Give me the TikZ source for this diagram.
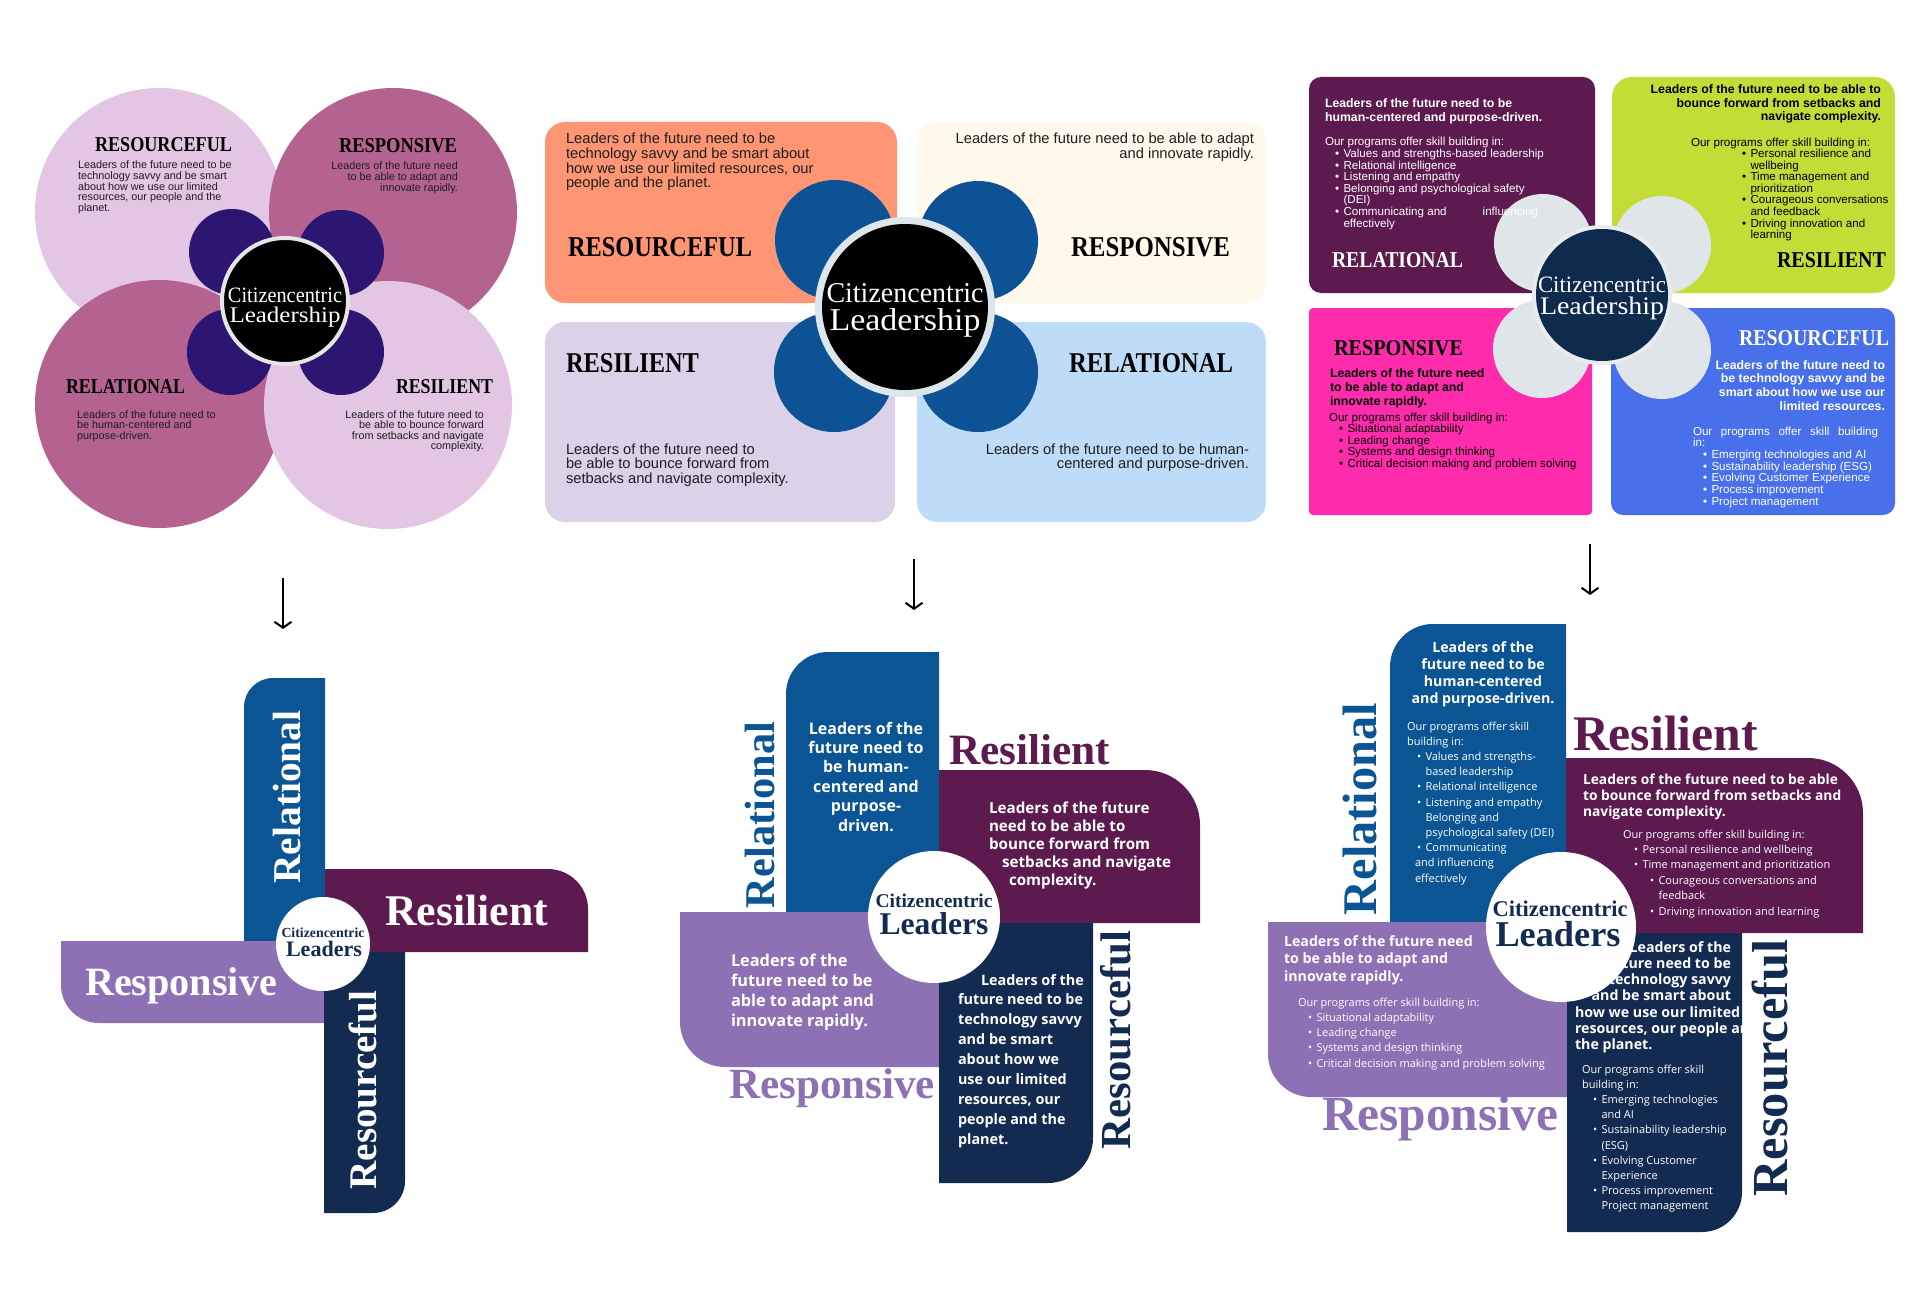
\documentclass[tikz,border=0pt]{standalone}
\usepackage{fontspec}
\usepackage{graphicx}
\usetikzlibrary{arrows.meta}
\setmainfont{Liberation Serif}
\newfontfamily\arialf{Liberation Sans}
\newfontfamily\osf{Open Sans}
\newfontfamily\serf{Liberation Serif}
\definecolor{tlpink}{HTML}{E3C6E3}
\definecolor{tlmauve}{HTML}{B4628F}
\definecolor{tldark}{HTML}{2D1572}
\definecolor{tlring}{HTML}{E6E6E6}
\definecolor{tmorange}{HTML}{FE9674}
\definecolor{tmcream}{HTML}{FFF9EB}
\definecolor{tmlav}{HTML}{DBD1E9}
\definecolor{tmsky}{HTML}{BEDCF8}
\definecolor{tmblue}{HTML}{0E5296}
\definecolor{tmring}{HTML}{DDE6EA}
\definecolor{trplum}{HTML}{5C1A4F}
\definecolor{trlime}{HTML}{C4DC36}
\definecolor{trpink}{HTML}{FF2BAD}
\definecolor{trblue}{HTML}{4870EA}
\definecolor{trpetal}{HTML}{E0E5EA}
\definecolor{trnavy}{HTML}{0E2A4D}
\definecolor{trring}{HTML}{E8ECEF}
\definecolor{bblue}{HTML}{0B5595}
\definecolor{bplum}{HTML}{5C1A4E}
\definecolor{blav}{HTML}{8E71B4}
\definecolor{bnavy}{HTML}{132B50}
\definecolor{txtdark}{HTML}{1E1E1E}
\newcommand\bul{\makebox[8.5pt][l]{•}}
\newcommand\fitw[2]{\resizebox{#1pt}{!}{#2}}
\newcommand\fitwh[3]{\resizebox{#1pt}{#2pt}{#3}}
% bars with one rounded corner: color, x1, ytop, x2, ybottom, radius
\newcommand\barTL[6]{\fill[#1] (#2,#5) -- ({#2},{#3+#6}) .. controls ({#2},{#3+0.448*#6}) and ({#2+0.448*#6},{#3}) .. ({#2+#6},{#3}) -- (#4,#3) -- (#4,#5) -- cycle;}
\newcommand\barTR[6]{\fill[#1] (#2,#5) -- (#2,#3) -- ({#4-#6},{#3}) .. controls ({#4-0.448*#6},{#3}) and ({#4},{#3+0.448*#6}) .. ({#4},{#3+#6}) -- (#4,#5) -- cycle;}
\newcommand\barBL[6]{\fill[#1] (#2,#3) -- (#4,#3) -- (#4,#5) -- ({#2+#6},{#5}) .. controls ({#2+0.448*#6},{#5}) and ({#2},{#5-0.448*#6}) .. ({#2},{#5-#6}) -- cycle;}
\newcommand\barBR[6]{\fill[#1] (#2,#3) -- (#4,#3) -- ({#4},{#5-#6}) .. controls ({#4},{#5-0.448*#6}) and ({#4-0.448*#6},{#5}) .. ({#4-#6},{#5}) -- (#2,#5) -- cycle;}
\tikzset{
  arrowst/.style={draw=black, line width=2pt, -{Straight Barb[length=6pt,width=17pt]}},
  ttl/.style={font=\serf\bfseries, anchor=base west},
  ctr/.style={font=\serf, anchor=base, text=white},
  bctr/.style={font=\serf\bfseries, anchor=base, text=bnavy},
  ptitle/.style={font=\serf\bfseries, anchor=base west},
  rtitle/.style={font=\serf\bfseries, rotate=90},
  p1body/.style={font=\arialf\fontsize{10.8}{10.6}\selectfont, text=txtdark},
  p2body/.style={font=\arialf\fontsize{14.7}{14.6}\selectfont, text=txtdark},
  p3bold/.style={font=\arialf\bfseries\fontsize{12.3}{14}\selectfont},
  p3reg/.style={font=\arialf\fontsize{11.6}{11.6}\selectfont, align=left, anchor=base west},
  bbold/.style={font=\osf\bfseries, text=white},
  breg/.style={font=\osf\fontsize{11}{15.2}\selectfont, text=white, align=left, anchor=base west},
  lw/.style={align=left, anchor=base west},
  re/.style={align=right, anchor=base east},
}
\begin{document}
\begin{tikzpicture}[x=1pt,y=-1pt, every node/.style={inner sep=0pt,outer sep=0pt}]
\useasboundingbox[fill=white] (0,0) rectangle (1920,1300);
% (multi-line text nodes are placed by the baseline of their LAST line)

% ================= panel 1 (top left) =================
\fill[tlpink] (159,212) circle[radius=124pt];
\fill[tlmauve] (393,212) circle[radius=124pt];
\fill[tlmauve] (159,404) circle[radius=124pt];
\fill[tlpink] (388,405) circle[radius=124pt];
\fill[tldark] (232,252) circle[radius=43pt];
\fill[tldark] (341,253) circle[radius=43pt];
\fill[tldark] (230,352) circle[radius=43pt];
\fill[tldark] (341,352) circle[radius=43pt];
\filldraw[fill=black, draw=tlring, line width=4pt] (285,301) circle[radius=63pt];
\node[ctr] (p1c1) at (285,302) {\fitwh{114}{14.5}{Citizencentric}};
\node[ctr] (p1c2) at (285,322) {\fitwh{111}{15.5}{Leadership}};
\node[ttl] (p1t1) at (95,152) {\fitwh{137}{14}{RESOURCEFUL}};
\node[ttl] (p1t2) at (339,153) {\fitwh{118}{14}{RESPONSIVE}};
\node[ttl] (p1t3) at (66,393) {\fitwh{119}{14}{RELATIONAL}};
\node[ttl] (p1t4) at (396,393) {\fitwh{97}{14}{RESILIENT}};
\node[p1body, lw] (p1b1) at (78,211.4) {Leaders of the future need to be\\technology savvy and be smart\\about how we use our limited\\resources, our people and the\\planet.};
\node[p1body, re] (p1b2) at (458,191.2) {Leaders of the future need\\to be able to adapt and\\innovate rapidly.};
\node[p1body, lw] (p1b3) at (77,439.2) {Leaders of the future need to\\be human-centered and\\purpose-driven.};
\node[p1body, re] (p1b4) at (484,449.8) {Leaders of the future need to\\be able to bounce forward\\from setbacks and navigate\\complexity.};

% ================= panel 2 (top middle) =================
\fill[tmorange, rounded corners=20pt] (545,122) rectangle (897,303);
\fill[tmcream, rounded corners=20pt] (917,122) rectangle (1266,303);
\fill[tmlav, rounded corners=20pt] (545,322) rectangle (895,522);
\fill[tmsky, rounded corners=20pt] (917,322) rectangle (1266,522);
\fill[tmblue] (835,240) circle[radius=60pt];
\fill[tmblue] (978,241) circle[radius=60pt];
\fill[tmblue] (834,372) circle[radius=60pt];
\fill[tmblue] (978,372) circle[radius=60pt];
\fill[tmring] (905,307) circle[radius=90pt];
\fill[black] (905,307) circle[radius=83pt];
\node[ctr] (p2c1) at (905,302) {\fitwh{157}{19}{Citizencentric}};
\node[ctr] (p2c2) at (905,330) {\fitwh{151}{22}{Leadership}};
\node[ttl] (p2t1) at (568,257) {\fitwh{184}{19}{RESOURCEFUL}};
\node[ttl] (p2t2) at (1071,257) {\fitwh{159}{19}{RESPONSIVE}};
\node[ttl] (p2t3) at (566,372) {\fitwh{133}{19}{RESILIENT}};
\node[ttl] (p2t4) at (1069,372) {\fitwh{164}{19}{RELATIONAL}};
\node[p2body, lw] (p2b1) at (566,187.8) {Leaders of the future need to be\\technology savvy and be smart about\\how we use our limited resources, our\\people and the planet.};
\node[p2body, re] (p2b2) at (1254,158.6) {Leaders of the future need to be able to adapt\\and innovate rapidly.};
\node[p2body, lw] (p2b3) at (566,483.2) {Leaders of the future need to\\be able to bounce forward from\\setbacks and navigate complexity.};
\node[p2body, re] (p2b4) at (1249,468.6) {Leaders of the future need to be human-\\centered and purpose-driven.};

% ================= panel 3 (top right) =================
\fill[trplum, rounded corners=12pt] (1309,77) rectangle (1595,293);
\fill[trlime, rounded corners=20pt] (1612,77) rectangle (1895,293);
\fill[trpink, rounded corners=4pt] (1309,308) rectangle (1592,515);
\fill[trblue, rounded corners=12pt] (1611,308) rectangle (1895,515);
\fill[trpetal] (1543,243) circle[radius=49pt];
\fill[trpetal] (1662,245) circle[radius=49pt];
\fill[trpetal] (1542,349) circle[radius=49pt];
\fill[trpetal] (1662,350) circle[radius=49pt];
\fill[trring] (1602,295) circle[radius=70pt];
\fill[trnavy] (1602,295) circle[radius=66pt];
\node[ctr] (p3c1) at (1602,292) {\fitwh{128}{15.5}{Citizencentric}};
\node[ctr] (p3c2) at (1602,315) {\fitwh{124}{17.5}{Leadership}};
\node[ttl, text=white] (p3t1) at (1332,268) {\fitwh{131}{15}{RELATIONAL}};
\node[ttl, text=black] (p3t2) at (1777,268) {\fitwh{109}{15}{RESILIENT}};
\node[ttl, text=black] (p3t3) at (1334,355) {\fitwh{129}{15}{RESPONSIVE}};
\node[ttl, text=white] (p3t4) at (1739,345) {\fitwh{150}{15}{RESOURCEFUL}};
\node[p3bold, lw, text=white] (p3b1) at (1325,122) {Leaders of the future need to be\\human-centered and purpose-driven.};
\node[p3reg, text=white] (p3r1) at (1325,227.2) {Our programs offer skill building in:\\
\hspace*{10pt}\bul Values and strengths-based leadership\\
\hspace*{10pt}\bul Relational intelligence\\
\hspace*{10pt}\bul Listening and empathy\\
\hspace*{10pt}\bul Belonging and psychological safety\\
\hspace*{18.5pt}(DEI)\\
\hspace*{10pt}\bul Communicating and\hspace{36pt}influencing\\
\hspace*{18.5pt}effectively};
\node[p3bold, re, text=black, font=\arialf\bfseries\fontsize{12.3}{13.5}\selectfont] (p3b2) at (1881,121) {Leaders of the future need to be able to\\bounce forward from setbacks and\\navigate complexity.};
\node[p3reg, text=black] (p3r2) at (1691,238.8) {Our programs offer skill building in:\\
\hspace*{51pt}\bul Personal resilience and\\
\hspace*{59.5pt}wellbeing\\
\hspace*{51pt}\bul Time management and\\
\hspace*{59.5pt}prioritization\\
\hspace*{51pt}\bul Courageous conversations\\
\hspace*{59.5pt}and feedback\\
\hspace*{51pt}\bul Driving innovation and\\
\hspace*{59.5pt}learning};
\node[p3bold, lw, text=black] (p3b3) at (1330,405) {Leaders of the future need\\to be able to adapt and\\innovate rapidly.};
\node[p3reg, text=black, font=\arialf\fontsize{11.6}{11.5}\selectfont] (p3r3) at (1329,467) {Our programs offer skill building in:\\
\hspace*{10pt}\bul Situational adaptability\\
\hspace*{10pt}\bul Leading change\\
\hspace*{10pt}\bul Systems and design thinking\\
\hspace*{10pt}\bul Critical decision making and problem solving};
\node[p3bold, re, text=white, font=\arialf\bfseries\fontsize{12.3}{13.7}\selectfont] (p3b4) at (1885,410.1) {Leaders of the future need to\\be technology savvy and be\\smart about how we use our\\limited resources.};
\node[p3reg, text=white, font=\arialf\fontsize{11.6}{11.7}\selectfont] (p3r4) at (1693,505.2) {\makebox[185pt][s]{Our programs offer skill building}\\
in:\\
\hspace*{10pt}\bul Emerging technologies and AI\\
\hspace*{10pt}\bul Sustainability leadership (ESG)\\
\hspace*{10pt}\bul Evolving Customer Experience\\
\hspace*{10pt}\bul Process improvement\\
\hspace*{10pt}\bul Project management};

% ================= arrows =================
\coordinate (ar1s) at (283,578); \coordinate (ar1e) at (283,629);
\coordinate (ar2s) at (914,559); \coordinate (ar2e) at (914,610);
\coordinate (ar3s) at (1590,544); \coordinate (ar3e) at (1590,595);
\draw[arrowst] (ar1s) -- (ar1e);
\draw[arrowst] (ar2s) -- (ar2e);
\draw[arrowst] (ar3s) -- (ar3e);

% ================= panel 4 (bottom left) =================
\barTL{bblue}{244}{678}{325}{942}{29}
\barTR{bplum}{325}{869}{588}{952}{40}
\barBL{blav}{61}{941}{325}{1023}{38}
\barBR{bnavy}{324}{952}{405}{1213}{32}
\fill[white] (323,944) circle[radius=47pt];
\node[bctr] (p4c1) at (323,937) {\fitw{83}{Citizencentric}};
\node[bctr] (p4c2) at (324,956) {\fitw{76}{Leaders}};
\node[rtitle, text=white] (p4t1) at (287,797) {\fitw{173}{Relational}};
\node[ptitle, text=white] (p4t2) at (385,925) {\fitw{163}{Resilient}};
\node[ptitle, text=white] (p4t3) at (85,995) {\fitw{192}{Responsive}};
\node[rtitle, text=white] (p4t4) at (363,1090) {\fitw{199}{Resourceful}};

% ================= panel 5 (bottom middle) =================
\barTL{bblue}{786}{652}{939}{912}{42}
\barTR{bplum}{939}{770}{1200}{923}{55}
\barBL{blav}{680}{912}{939}{1067}{45}
\barBR{bnavy}{939}{923}{1093}{1183}{45}
\fill[white] (934,917) circle[radius=66pt];
\node[bctr] (p5c1) at (934,907) {\fitw{117}{Citizencentric}};
\node[bctr] (p5c2) at (934,934) {\fitw{109}{Leaders}};
\node[rtitle, text=bblue] (p5t1) at (760,815) {\fitw{186}{Relational}};
\node[ptitle, text=bplum] (p5t2) at (949,764) {\fitw{161}{Resilient}};
\node[ptitle, text=blav] (p5t3) at (729,1098) {\fitw{206}{Responsive}};
\node[rtitle, text=bnavy] (p5t4) at (1116,1040) {\fitw{218}{Resourceful}};
\node[bbold, font=\osf\bfseries\fontsize{16}{19.4}\selectfont, align=center, anchor=base] (p5b1) at (866,831) {Leaders of the\\future need to\\be human-\\centered and\\purpose-\\driven.};
\node[bbold, font=\osf\bfseries\fontsize{15.2}{18}\selectfont, lw] (p5b2) at (989,885) {Leaders of the future\\need to be able to\\bounce forward from\\\hspace*{13pt}setbacks and navigate\\\hspace*{20pt}complexity.};
\node[bbold, font=\osf\bfseries\fontsize{16.3}{20}\selectfont, lw] (p5b3) at (731,1026) {Leaders of the\\future need to be\\able to adapt and\\innovate rapidly.};
\node[bbold, font=\osf\bfseries\fontsize{14.4}{19.9}\selectfont, lw] (p5b4) at (958,1144.2) {\hspace*{23pt}Leaders of the\\future need to be\\technology savvy\\and be smart\\about how we\\use our limited\\resources, our\\people and the\\planet.};

% ================= panel 6 (bottom right) =================
\barTL{bblue}{1390}{624}{1566}{922}{43}
\barTR{bplum}{1566}{758}{1863}{933}{55}
\barBL{blav}{1268}{922}{1567}{1097}{43}
\barBR{bnavy}{1567}{933}{1742}{1232}{40}
\fill[white] (1561,927) circle[radius=75pt];
\node[bctr] (p6c1) at (1560,916) {\fitw{135}{Citizencentric}};
\node[bctr] (p6c2) at (1558,946) {\fitw{125}{Leaders}};
\node[rtitle, text=bblue] (p6t1) at (1360,809) {\fitw{212}{Relational}};
\node[ptitle, text=bplum] (p6t2) at (1573,750) {\fitw{185}{Resilient}};
\node[ptitle, text=blav] (p6t3) at (1322,1130) {\fitw{236}{Responsive}};
\node[rtitle, text=bnavy] (p6t4) at (1770,1068) {\fitw{257}{Resourceful}};
\node[bbold, font=\osf\bfseries\fontsize{14.2}{17}\selectfont, align=center, anchor=base] (p6b1) at (1483,703) {Leaders of the\\future need to be\\human-centered\\and purpose-driven.};
\node[breg] (p6r1) at (1407,882) {Our programs offer skill\\building in:\\
\hspace*{10pt}\bul Values and strengths-\\
\hspace*{18.5pt}based leadership\\
\hspace*{10pt}\bul Relational intelligence\\
\hspace*{10pt}\bul Listening and empathy\\
\hspace*{18.5pt}Belonging and\\
\hspace*{18.5pt}psychological safety (DEI)\\
\hspace*{10pt}\bul Communicating\\
\hspace*{8pt}and influencing\\
\hspace*{8pt}effectively};
\node[bbold, font=\osf\bfseries\fontsize{13.8}{16}\selectfont, lw] (p6b2) at (1583,816) {Leaders of the future need to be able\\to bounce forward from setbacks and\\navigate complexity.};
\node[breg, font=\osf\fontsize{11}{15.4}\selectfont] (p6r2) at (1623,915) {Our programs offer skill building in:\\
\hspace*{11pt}\bul Personal resilience and wellbeing\\
\hspace*{11pt}\bul Time management and prioritization\\
\hspace*{27pt}\bul Courageous conversations and\\
\hspace*{35.5pt}feedback\\
\hspace*{27pt}\bul Driving innovation and learning};
\node[bbold, font=\osf\bfseries\fontsize{14.2}{17.5}\selectfont, lw] (p6b3) at (1284,981) {Leaders of the future need\\to be able to adapt and\\innovate rapidly.};
\node[breg, font=\osf\fontsize{11}{15.3}\selectfont] (p6r3) at (1298,1067.2) {Our programs offer skill building in:\\
\hspace*{10pt}\bul Situational adaptability\\
\hspace*{10pt}\bul Leading change\\
\hspace*{10pt}\bul Systems and design thinking\\
\hspace*{10pt}\bul Critical decision making and problem solving};
\node[bbold, font=\osf\bfseries\fontsize{14.2}{16.3}\selectfont, re] (p6b4) at (1731,1000.9) {Leaders of the\\future need to be\\technology savvy\\and be smart about};
\node[bbold, font=\osf\bfseries\fontsize{14.2}{16.3}\selectfont, lw] (p6b5) at (1575,1049.6) {how we use our limited\\resources, our people and\\the planet.};
\node[breg, font=\osf\fontsize{11}{15.2}\selectfont] (p6r4) at (1582,1209.8) {Our programs offer skill\\building in:\\
\hspace*{11pt}\bul Emerging technologies\\
\hspace*{19.5pt}and AI\\
\hspace*{11pt}\bul Sustainability leadership\\
\hspace*{19.5pt}(ESG)\\
\hspace*{11pt}\bul Evolving Customer\\
\hspace*{19.5pt}Experience\\
\hspace*{11pt}\bul Process improvement\\
\hspace*{19.5pt}Project management};
\end{tikzpicture}
\end{document}
